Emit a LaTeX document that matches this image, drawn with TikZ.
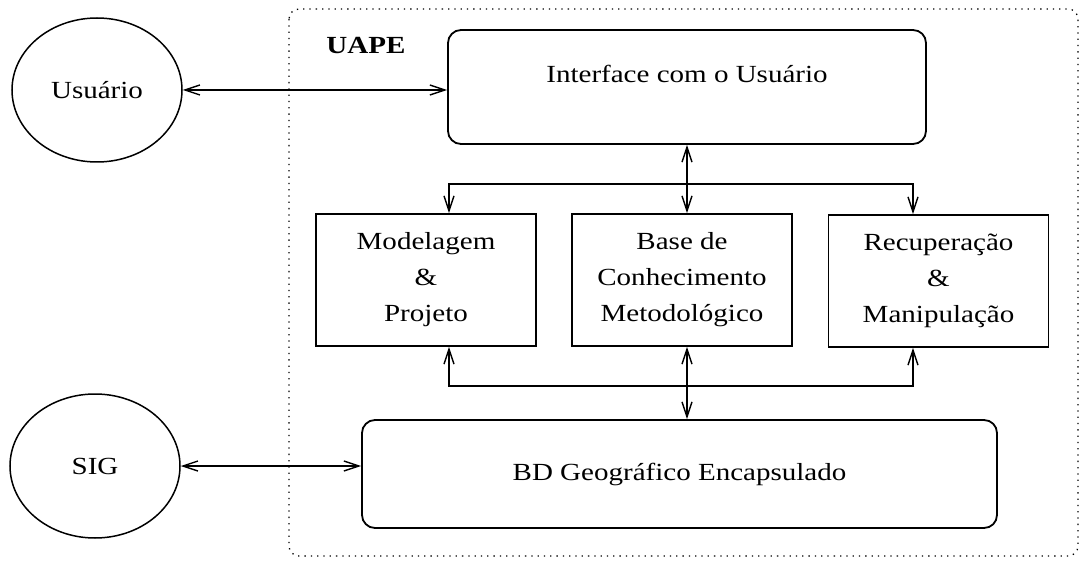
\documentclass[tikz,border=0pt]{standalone}
\usepackage{fontspec}
\setmainfont[FakeStretch=1.18]{Liberation Serif}
\usetikzlibrary{arrows.meta,shapes.geometric}
\begin{document}
\begin{tikzpicture}[x=1pt,y=-1pt,
  >={Straight Barb[length=15pt,width=10pt]},
  every node/.style={font=\fontsize{24.6}{36}\selectfont},
  actor/.style={ellipse, draw, line width=1.5pt, minimum width=170pt,
    minimum height=144pt, inner sep=0pt},
  module/.style={rectangle, draw, line width=1.8pt, minimum width=220pt,
    minimum height=132pt, align=center, inner sep=0pt},
  layer/.style={rectangle, draw, rounded corners=13pt, line width=1.8pt,
    inner sep=0pt},
  conn/.style={line width=1.4pt, line join=miter},
  frame/.style={line width=1.3pt, dash pattern=on 1.3pt off 5pt,
    rounded corners=10pt},
]
\useasboundingbox (0,0) rectangle (1081,561);

% system boundary
\draw[frame] (289,9) rectangle (1078,556);
\node[font=\fontsize{24.6}{36}\selectfont\bfseries] (uape) at (366,45) {UAPE};

% external actors
\node[actor] (usr) at (97,90) {Usuário};
\node[actor] (sig) at (95,466) {SIG};

% layers and modules
\node[layer, minimum width=478pt, minimum height=114pt,
  text height=18pt, text depth=26pt] (ui) at (687,87) {Interface com o Usuário};
\node[module] (mod)  at (426,280)   {Modelagem\\\&\\Projeto};
\node[module] (base) at (682,280)   {Base de\\Conhecimento\\Metodológico};
\node[module] (rec)  at (938.5,281) {Recuperação\\\&\\Manipulação};
\node[layer, minimum width=635pt, minimum height=108pt,
  text height=18pt, text depth=5pt] (bd) at (679.5,474) {BD Geográfico Encapsulado};

% actor links
\draw[conn,<->] (usr.east) -- (usr.east -| ui.west);
\draw[conn,<->] (sig.east) -- (sig.east -| bd.west);

% upper bus
\coordinate (tl) at (449,184);
\coordinate (tr) at (913,184);
\draw[conn,->] (tr) -- (tl) -- (tl |- mod.north);
\draw[conn,->] (tl) -- (tr) -- (tr |- rec.north);
\draw[conn,<->] (ui.south) -- (ui.south |- base.north);

% lower bus
\coordinate (bl) at (449,386);
\coordinate (br) at (913,386);
\draw[conn,->] (br) -- (bl) -- (bl |- mod.south);
\draw[conn,->] (bl) -- (br) -- (br |- rec.south);
\draw[conn,<->] (ui.south |- base.south) -- (ui.south |- bd.north);
\end{tikzpicture}
\end{document}
